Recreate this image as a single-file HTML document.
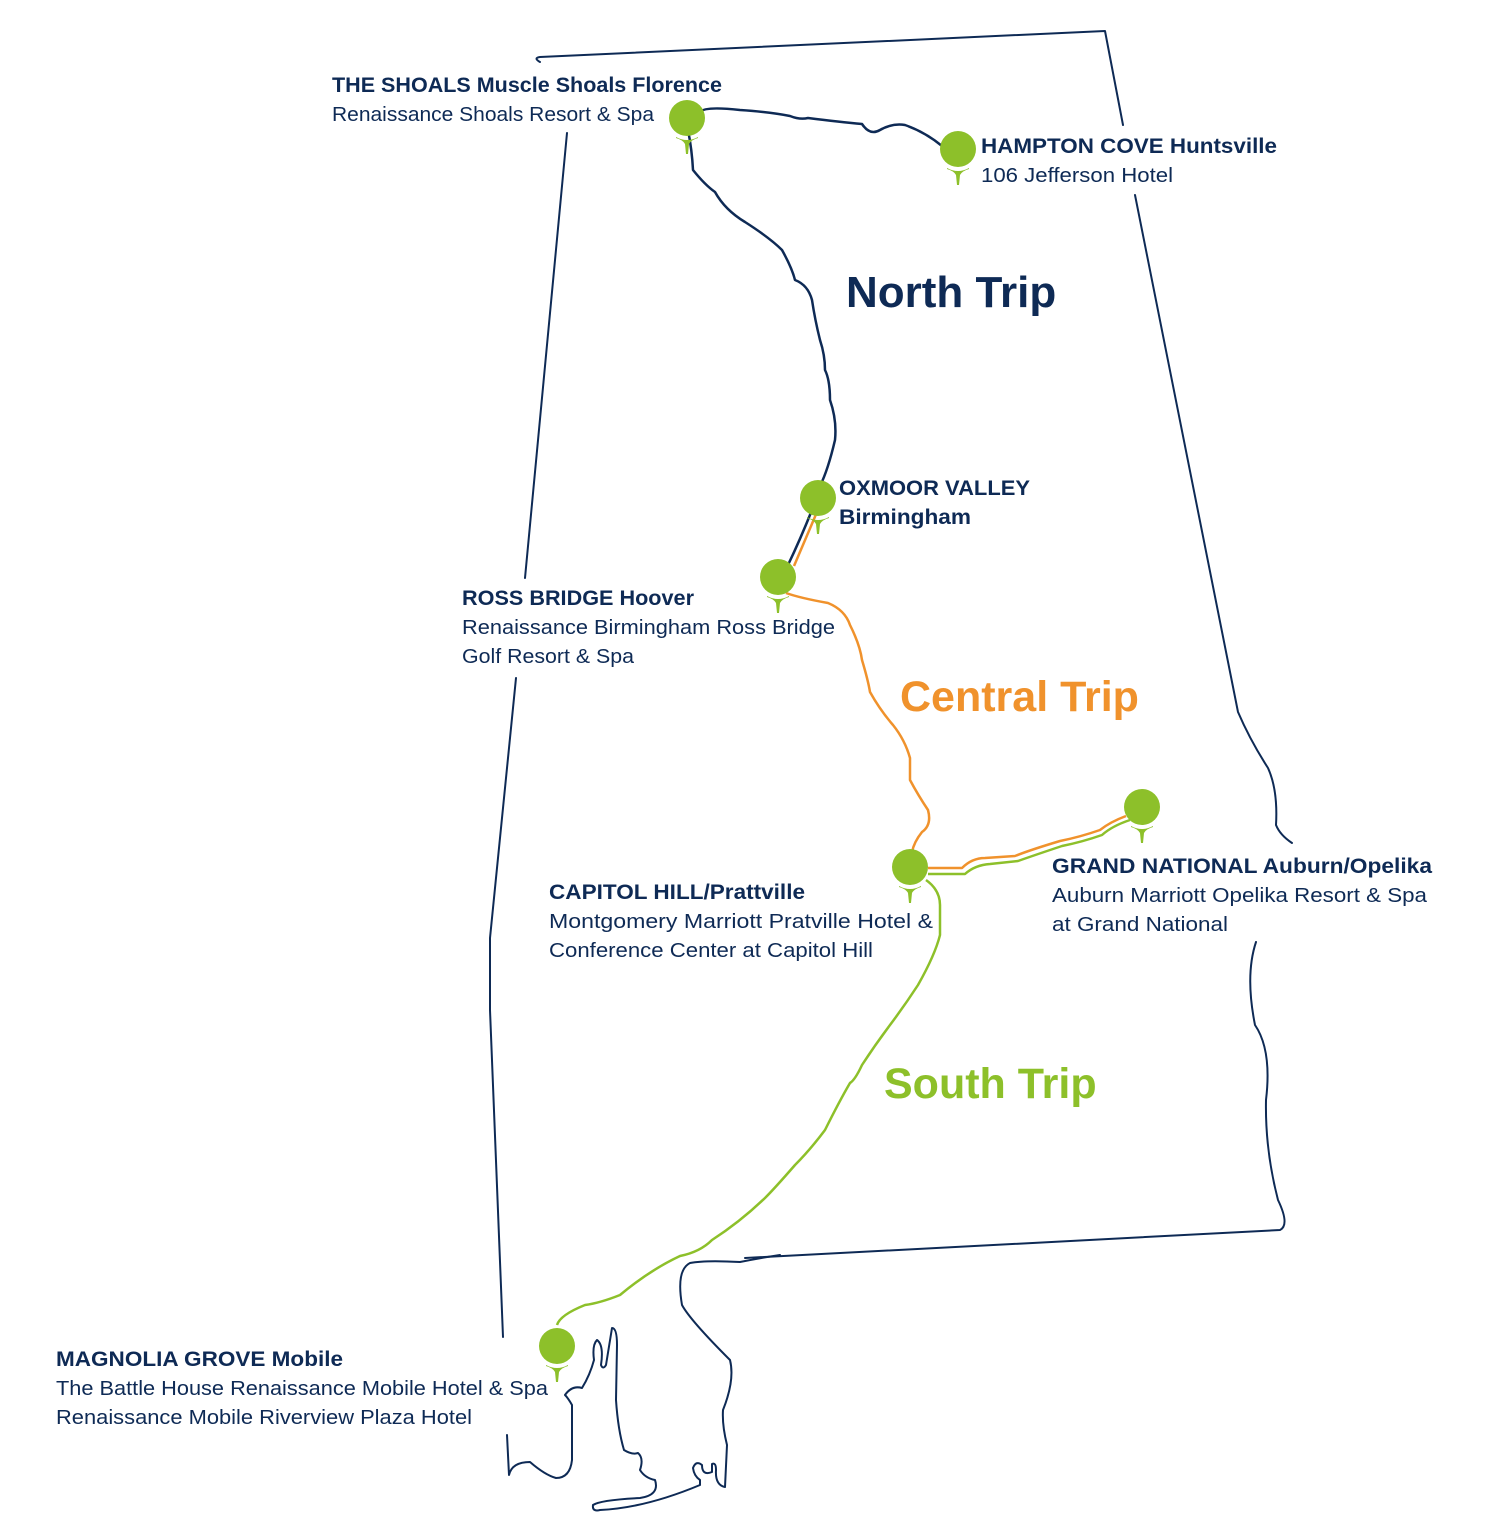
<!DOCTYPE html>
<html><head><meta charset="utf-8"><style>
html,body{margin:0;padding:0;background:#fff;}
svg{display:block;}
text{font-family:"Liberation Sans",sans-serif;fill:#0e2a55;}
.b{font-weight:bold;font-size:21px;}
.r{font-size:20.5px;}
</style></head><body>
<svg width="1486" height="1537" viewBox="0 0 1486 1537" xmlns="http://www.w3.org/2000/svg">
<g fill="none" stroke="#0e2a55" stroke-width="2" stroke-linejoin="round" stroke-linecap="round">
<path d="M540,62 Q533,58 540,57 L1105,31 L1123,125"/>
<path d="M1135,195 L1238,712 Q1250,740 1268,768 Q1278,790 1276,825 Q1280,835 1292,843"/>
<path d="M1256,942 Q1245,975 1255,1025 Q1272,1050 1266,1100 Q1265,1150 1278,1200 Q1290,1225 1280,1230 L745,1258"/>
<path d="M567,133 L525,578"/>
<path d="M516,678 L490,938 L490,1010 L503,1337"/>
<path d="M507,1435 L509,1475 Q512,1462 530,1462 Q545,1475 556,1478 Q570,1478 572,1460 L572,1405 Q568,1398 565,1395 Q572,1385 582,1388 Q590,1375 594,1360 Q592,1345 597,1340 Q604,1345 601,1365 Q603,1370 606,1365 Q610,1340 612,1328 Q617,1328 617,1345 L616,1400 Q618,1430 624,1450 Q632,1455 638,1453 Q644,1458 640,1470 Q645,1478 655,1480 Q660,1495 640,1498 Q600,1500 593,1505 Q592,1512 600,1510 Q645,1508 700,1485 L700,1480 Q694,1476 693,1468 Q696,1460 702,1465 Q702,1476 712,1472 Q712,1468 712,1464 Q716,1462 716,1470 Q715,1485 725,1487 L727,1445 Q722,1425 723,1410 Q735,1380 730,1360 Q690,1320 682,1305 Q676,1270 690,1263 Q705,1260 740,1262 Q760,1258 780,1255"/>
<path stroke-width="2.5" d="M700,112 Q705,106 740,110 Q770,112 790,116 Q800,120 808,118 Q840,122 862,124 Q870,136 880,130 Q892,123 905,125 Q925,132 942,146"/>
<path stroke-width="2.5" d="M688,130 Q692,150 693,170 Q705,185 715,192 Q725,210 745,222 Q770,238 782,250 Q792,268 795,280 Q808,285 812,300 Q815,320 820,340 Q825,355 825,370 Q830,380 830,400 Q837,420 835,440 Q828,470 820,486"/>
<path stroke-width="2.5" d="M812,510 Q800,540 788,565"/>
</g>
<g fill="none" stroke="#f0922c" stroke-width="2.5" stroke-linejoin="round">
<path d="M817,512 Q805,540 794,566"/>
<path d="M786,593 Q800,598 828,603 Q845,610 850,625 Q860,645 862,660 Q868,680 870,692 Q880,710 893,725 Q905,740 910,758 L910,780 Q918,795 928,810 Q932,825 922,832 Q914,842 912,852"/>
<path d="M928,868 L962,868 Q972,858 985,858 L1015,856 Q1030,850 1060,841 Q1080,837 1100,830 Q1110,822 1126,816"/>
</g>
<g fill="none" stroke="#8dc02a" stroke-width="2.5" stroke-linejoin="round">
<path d="M928,874 L965,874 Q975,865 990,864 L1018,861 Q1035,855 1062,846 Q1082,842 1102,835 Q1112,826 1130,820"/>
<path d="M926,880 Q940,890 940,905 L940,935 Q935,955 918,985 Q905,1005 890,1025 Q875,1045 862,1065 Q855,1080 850,1083 Q840,1100 825,1130 Q810,1150 795,1165 Q775,1188 765,1198 Q740,1222 712,1240 Q700,1252 680,1256 Q650,1270 620,1295 Q600,1303 585,1305 Q560,1315 557,1325"/>
</g>
<g fill="#8dc02a">
<g id="p1" transform="translate(687,118)"><circle r="18"/><path d="M-11,19 Q0,25 11,19 L11,20 Q4,22 2,26 L1,36 L-1,36 L-2,26 Q-4,22 -11,20Z"/></g>
<use href="#p1" transform="translate(271,31)"/>
<use href="#p1" transform="translate(131,380)"/>
<use href="#p1" transform="translate(91,459)"/>
<use href="#p1" transform="translate(223,749)"/>
<use href="#p1" transform="translate(455,689)"/>
<use href="#p1" transform="translate(-130,1228)"/>
</g>
<text class="b" x="332" y="92" textLength="390" lengthAdjust="spacingAndGlyphs">THE SHOALS Muscle Shoals Florence</text>
<text class="r" x="332" y="121" textLength="322" lengthAdjust="spacingAndGlyphs">Renaissance Shoals Resort &amp; Spa</text>
<text class="b" x="981" y="153" textLength="296" lengthAdjust="spacingAndGlyphs">HAMPTON COVE Huntsville</text>
<text class="r" x="981" y="182" textLength="192" lengthAdjust="spacingAndGlyphs">106 Jefferson Hotel</text>
<text x="846" y="307" style="font-size:44px;font-weight:bold;">North Trip</text>
<text class="b" x="839" y="495" textLength="191" lengthAdjust="spacingAndGlyphs">OXMOOR VALLEY</text>
<text class="b" x="839" y="524" textLength="132" lengthAdjust="spacingAndGlyphs">Birmingham</text>
<text class="b" x="462" y="605" textLength="232" lengthAdjust="spacingAndGlyphs">ROSS BRIDGE Hoover</text>
<text class="r" x="462" y="634" textLength="373" lengthAdjust="spacingAndGlyphs">Renaissance Birmingham Ross Bridge</text>
<text class="r" x="462" y="663" textLength="172" lengthAdjust="spacingAndGlyphs">Golf Resort &amp; Spa</text>
<text x="900" y="711" style="font-size:43px;font-weight:bold;fill:#f0922c;">Central Trip</text>
<text class="b" x="549" y="899" textLength="256" lengthAdjust="spacingAndGlyphs">CAPITOL HILL/Prattville</text>
<text class="r" x="549" y="928" textLength="384" lengthAdjust="spacingAndGlyphs">Montgomery Marriott Pratville Hotel &amp;</text>
<text class="r" x="549" y="957" textLength="324" lengthAdjust="spacingAndGlyphs">Conference Center at Capitol Hill</text>
<text class="b" x="1052" y="873" textLength="380" lengthAdjust="spacingAndGlyphs">GRAND NATIONAL Auburn/Opelika</text>
<text class="r" x="1052" y="902" textLength="375" lengthAdjust="spacingAndGlyphs">Auburn Marriott Opelika Resort &amp; Spa</text>
<text class="r" x="1052" y="931" textLength="176" lengthAdjust="spacingAndGlyphs">at Grand National</text>
<text x="884" y="1098" style="font-size:43px;font-weight:bold;fill:#8dc02a;">South Trip</text>
<text class="b" x="56" y="1366" textLength="287" lengthAdjust="spacingAndGlyphs">MAGNOLIA GROVE Mobile</text>
<text class="r" x="56" y="1395" textLength="492" lengthAdjust="spacingAndGlyphs">The Battle House Renaissance Mobile Hotel &amp; Spa</text>
<text class="r" x="56" y="1424" textLength="416" lengthAdjust="spacingAndGlyphs">Renaissance Mobile Riverview Plaza Hotel</text>
</svg>
</body></html>
